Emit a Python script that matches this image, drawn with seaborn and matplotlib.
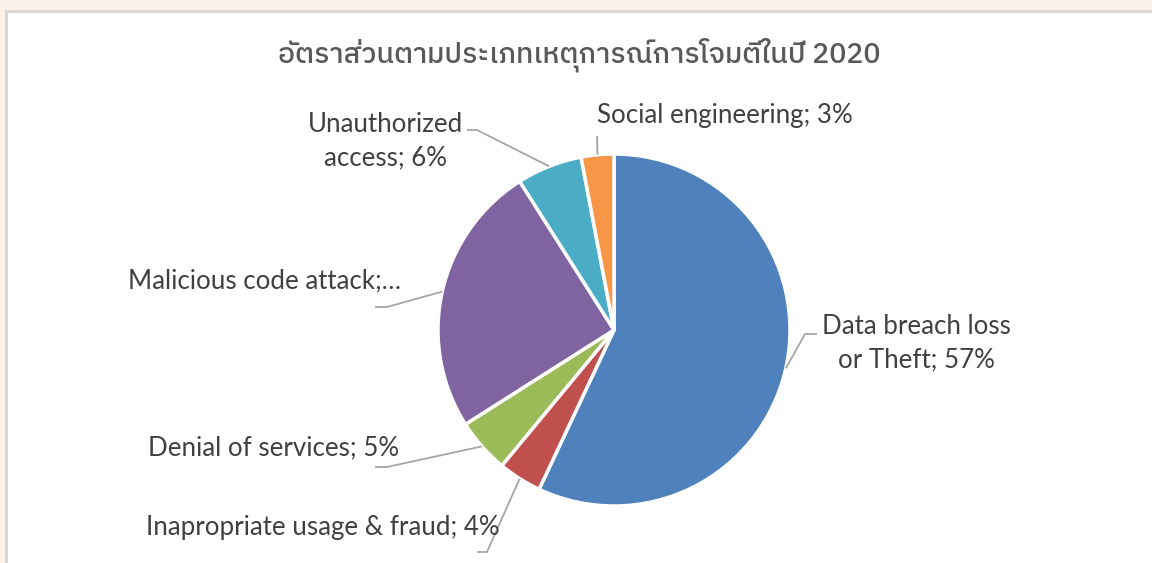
import numpy as np
import matplotlib
matplotlib.use("Agg")
import matplotlib.pyplot as plt
from matplotlib import font_manager as fm
from matplotlib.patches import Rectangle
import seaborn as sns

# Incident categories (clockwise from 12 o'clock) and their shares in percent
categories = [
    "Data breach loss or Theft",
    "Inapropriate usage & fraud",
    "Denial of services",
    "Malicious code attack",
    "Unauthorized access",
    "Social engineering",
]
shares = [57, 4, 5, 25, 6, 3]
label_texts = [
    "Data breach loss\nor Theft; 57%",
    "Inapropriate usage & fraud; 4%",
    "Denial of services; 5%",
    "Malicious code attack;…",
    "Unauthorized\naccess; 6%",
    "Social engineering; 3%",
]
colors = ["#4F81BD", "#C0504D", "#9BBB59", "#8064A2", "#4BACC6", "#F79646"]
title = "อัตราส่วนตามประเภทเหตุการณ์การโจมตีในปี 2020"

W, H = 1152, 563

sns.set_theme(style="white")


def font_with_glyph(ch):
    """Return the name of an installed font that covers the given character."""
    names = []
    for f in fm.fontManager.ttflist:
        try:
            if fm.get_font(f.fname).get_char_index(ord(ch)):
                names.append(f.name)
        except Exception:
            continue
    names = sorted(set(names), key=lambda n: (("Sans" not in n), ("Thai" not in n), n))
    return names[0] if names else None


thai_font = font_with_glyph("อ")
text_font = "Lato"
plt.rcParams["font.family"] = [text_font, "DejaVu Sans"]

fig = plt.figure(figsize=(W / 100, H / 100), dpi=100)
fig.patch.set_facecolor("#FDF2E9")

# White chart panel with a thin grey frame
fig.patches.append(Rectangle((6 / W, -0.1), 1.2, 1.1 - 11 / H, transform=fig.transFigure,
                             facecolor="white", edgecolor="#D9D9D9", lw=2.2, zorder=-10))

ax = fig.add_axes([0, 0, 1, 1])
ax.patch.set_alpha(0)

cx, cy, r = 614, H - 330, 176
palette = sns.color_palette(colors)
wedges, _ = ax.pie(shares, colors=palette, startangle=90, counterclock=False,
                   center=(cx, cy), radius=r, frame=True,
                   wedgeprops=dict(edgecolor="white", linewidth=2.5))
ax.set_xlim(0, W)
ax.set_ylim(0, H)
ax.set_aspect("equal")
ax.axis("off")

# Label layout: text centre and elbow of the leader line (pixel coords from top-left)
label_layout = [
    dict(text=(916, 343), elbow=[(817, 334), (805, 334)]),
    dict(text=(323, 527), elbow=[(477, 552), (487, 552)]),
    dict(text=(274, 448), elbow=[(375, 467), (387, 467)]),
    dict(text=(264, 281), elbow=[(375, 307), (387, 307)]),
    dict(text=(385, 141), elbow=[(467, 130), (477, 130)]),
    dict(text=(725, 115), elbow=[(597, 136)]),
]

text_color = "#404040"
line_color = "#A6A6A6"
for w, txt, lay in zip(wedges, label_texts, label_layout):
    mid = np.deg2rad((w.theta1 + w.theta2) / 2)
    ax_pt = (cx + r * np.cos(mid), cy + r * np.sin(mid))
    pts = [(x, H - y) for x, y in lay["elbow"]] + [ax_pt]
    xs, ys = zip(*pts)
    ax.plot(xs, ys, color=line_color, lw=1.3, solid_capstyle="butt", zorder=3)
    tx, ty = lay["text"]
    ax.text(tx, H - ty, txt, ha="center", va="center", ma="center",
            fontsize=18.6, color=text_color, linespacing=1.42, zorder=4)

title_family = [thai_font, "DejaVu Sans"] if thai_font else ["DejaVu Sans"]
ax.text(579, H - 55, title, ha="center", va="center", fontsize=20.4,
        color="#595959", family=title_family, weight="medium")

fig.savefig("out.png", dpi=100, facecolor=fig.get_facecolor())
